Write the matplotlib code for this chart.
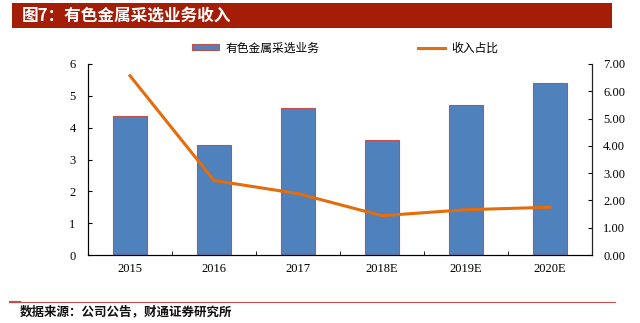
import matplotlib
matplotlib.use("Agg")
import matplotlib.pyplot as plt
import numpy as np

plt.rcParams["font.family"] = ["Noto Sans CJK SC", "DejaVu Sans"]

years = ["2015", "2016", "2017", "2018E", "2019E", "2020E"]
revenue = [4.36, 3.45, 4.63, 3.60, 4.72, 5.40]        # 有色金属采选业务 (left axis)
share = [6.57, 2.73, 2.25, 1.44, 1.66, 1.75]          # 收入占比 (right axis)

RED, BLUE, EDGE, ORANGE = "#A41E07", "#4F81BD", "#C0504D", "#E46C0A"
SERIF = "Liberation Serif"

fig = plt.figure(figsize=(6.4, 3.23), dpi=100)
fig.patch.set_facecolor("white")

# header band
fig.add_artist(plt.Rectangle((12 / 640, 1 - 28 / 323), 600 / 640, 25 / 323,
                             transform=fig.transFigure, facecolor=RED, ec="none"))
fig.text(22 / 640, 1 - 15.5 / 323, "图7：有色金属采选业务收入", color="white",
         fontsize=12, fontweight="bold", ha="left", va="center")

ax = fig.add_axes([88 / 640, 1 - 255 / 323, 504 / 640, 191 / 323])
x = np.arange(len(years))
bars = ax.bar(x, revenue, 0.4, color=BLUE, edgecolor=EDGE, linewidth=0.8,
              label="有色金属采选业务")
ax.set_xlim(-0.5, len(years) - 0.5)
ax.set_ylim(0, 6)
ax.set_yticks(range(7))
ax.set_yticklabels([str(i) for i in range(7)], family=SERIF, fontsize=9)
ax.set_xticks(x)
ax.set_xticklabels(years, family=SERIF, fontsize=9)
ax.set_xticks(np.arange(len(years) + 1) - 0.5, minor=True)
ax.tick_params(axis="x", which="major", length=0, pad=6)
ax.tick_params(axis="x", which="minor", direction="in", length=3, color="black")
ax.tick_params(axis="y", direction="in", length=3, pad=9)
ax.spines["top"].set_visible(False)
for sp in ["left", "bottom", "right"]:
    ax.spines[sp].set_color("#222222")

ax2 = ax.twinx()
line, = ax2.plot(x, share, color=ORANGE, linewidth=2.2, label="收入占比")
ax2.set_ylim(0, 7)
ax2.set_yticks(range(8))
ax2.set_yticklabels([f"{i:.2f}" for i in range(8)], family=SERIF, fontsize=9)
ax2.tick_params(axis="y", direction="in", length=3, pad=8)
ax2.spines["top"].set_visible(False)
ax2.spines["right"].set_color("#222222")

# legend entries, placed one by one
for handle, label, lx in [(bars, "有色金属采选业务", 192), (line, "收入占比", 418)]:
    fig.legend([handle], [label], loc="center left", bbox_to_anchor=(lx / 640, 1 - 48 / 323),
               frameon=False, fontsize=8.5, handlelength=2.3, handleheight=0.45,
               handletextpad=0.5, borderpad=0, borderaxespad=0)

# footer
fig.add_artist(plt.Line2D([10 / 640, 615 / 640], [1 - 302 / 323] * 2,
                          color=EDGE, lw=0.8, transform=fig.transFigure))
fig.add_artist(plt.Line2D([10 / 640, 20 / 640], [1 - 301.5 / 323] * 2,
                          color=EDGE, lw=1.6, transform=fig.transFigure))
fig.text(20 / 640, 1 - 312 / 323, "数据来源：公司公告，财通证券研究所", fontsize=9,
         fontweight="bold", ha="left", va="center", color="#111111")

fig.savefig("out.png", facecolor="white")
